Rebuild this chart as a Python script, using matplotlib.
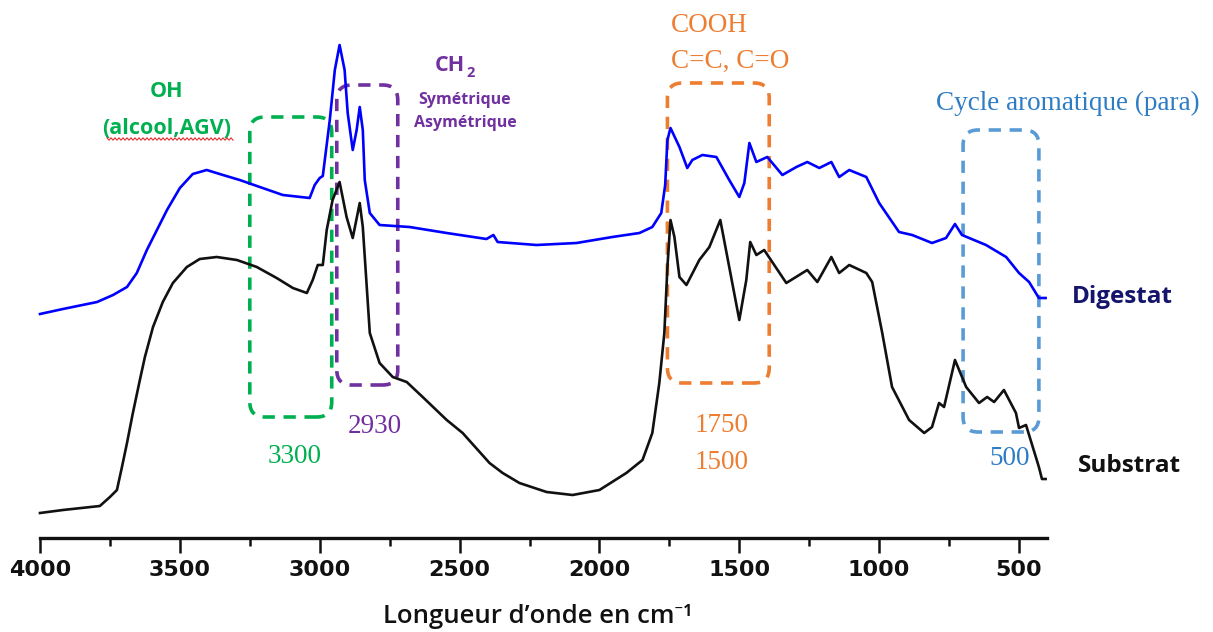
import matplotlib
matplotlib.use("Agg")
import matplotlib.pyplot as plt
from matplotlib.patches import FancyBboxPatch
from matplotlib.lines import Line2D
import numpy as np

# ---------------- data (arbitrary intensity units) ----------------
digestat_wn = [4000, 3918, 3796, 3739, 3689, 3654, 3618, 3582, 3546, 3500, 3454, 3404, 3346,
               3286, 3204, 3132, 3036, 3018, 3000, 2989, 2964, 2946, 2929, 2911, 2900, 2882,
               2868, 2857, 2846, 2839, 2821, 2786, 2679, 2546, 2404, 2379, 2364, 2225, 2082,
               1954, 1857, 1811, 1779, 1765, 1757, 1746, 1714, 1686, 1668, 1632, 1582, 1536,
               1500, 1482, 1464, 1439, 1400, 1346, 1296, 1257, 1214, 1171, 1143, 1107, 1046,
               1000, 929, 882, 811, 761, 729, 704, 618, 546, 500, 464, 429, 405]
digestat_int = [226, 231, 238, 245, 253, 267, 290, 310, 330, 352, 366, 370, 365,
                360, 352, 345, 342, 355, 362, 364, 420, 470, 495, 470, 427, 390,
                410, 433, 410, 360, 327, 315, 313, 307, 301, 305, 298, 295, 297,
                303, 307, 313, 327, 355, 400, 412, 393, 372, 380, 385, 383, 360,
                343, 357, 397, 378, 383, 365, 373, 378, 372, 378, 363, 370, 363,
                337, 308, 305, 297, 302, 316, 305, 295, 283, 267, 258, 242, 242]

substrat_wn = [4000, 3918, 3786, 3750, 3725, 3707, 3689, 3668, 3643, 3625, 3596, 3561, 3525,
               3475, 3429, 3368, 3296, 3225, 3154, 3096, 3046, 3025, 3007, 2989, 2975, 2954,
               2929, 2904, 2882, 2857, 2846, 2821, 2786, 2739, 2689, 2632, 2546, 2489, 2393,
               2346, 2286, 2189, 2096, 2000, 1904, 1846, 1811, 1786, 1768, 1757, 1746, 1732,
               1714, 1689, 1643, 1607, 1568, 1536, 1500, 1475, 1461, 1439, 1411, 1332, 1257,
               1221, 1171, 1143, 1107, 1046, 1025, 989, 954, 893, 839, 811, 786, 768, 729,
               689, 643, 614, 589, 554, 511, 500, 475, 429, 418, 405]
substrat_int = [27, 30, 34, 43, 50, 73, 97, 127, 160, 183, 213, 238, 257,
                273, 281, 283, 280, 273, 262, 252, 247, 260, 275, 275, 310, 340,
                358, 323, 302, 337, 313, 207, 177, 163, 158, 143, 120, 107, 77,
                67, 57, 48, 45, 50, 67, 80, 107, 157, 207, 273, 320, 303,
                263, 255, 280, 293, 320, 273, 220, 260, 298, 285, 290, 257, 270,
                258, 283, 267, 275, 267, 258, 207, 153, 120, 107, 113, 137, 133, 180,
                153, 137, 143, 138, 150, 127, 112, 115, 73, 61, 61]

xticks_major = [4000, 3500, 3000, 2500, 2000, 1500, 1000, 500]
xticks_minor = [3750, 3250, 2750, 2250, 1750, 1250, 750]

# band boxes: (wn_left, wn_right, y_low, y_high)
box_oh = (3250, 2957, 123, 423)
box_ch2 = (2939, 2721, 155, 455)
box_cooh = (1757, 1393, 157, 457)
box_arom = (700, 429, 108, 410)

GREEN = "#00B050"
PURPLE = "#7030A0"
ORANGE = "#ED7D31"
LBLUE = "#5B9BD5"
TBLUE = "#2E7CC4"
NAVY = "#15156B"

W, H = 1213, 632
fig = plt.figure(figsize=(W / 100, H / 100), dpi=100)
ax = fig.add_axes([40 / W, (H - 538) / H, 1007 / W, 538 / H])
ax.set_xlim(4000, 400)
ax.set_ylim(2, 540)

ax.plot(digestat_wn, digestat_int, color="#0000FF", lw=1.9, solid_joinstyle="round", clip_on=False)
ax.plot(substrat_wn, substrat_int, color="#111111", lw=1.9, solid_joinstyle="round", clip_on=False)

pxw = 1007 / 3600.0  # pixels per cm-1
rad_px = 15
for (wl, wr, y0, y1), col in [(box_oh, GREEN), (box_ch2, PURPLE), (box_cooh, ORANGE), (box_arom, LBLUE)]:
    r = rad_px / pxw
    p = FancyBboxPatch((wr, y0), wl - wr, y1 - y0,
                       boxstyle=f"round,pad=0,rounding_size={r}",
                       mutation_aspect=rad_px / r,
                       fill=False, ec=col, lw=2.6, ls=(0, (3.4, 2.4)), clip_on=False)
    ax.add_patch(p)

for s in ["left", "right", "top"]:
    ax.spines[s].set_visible(False)
ax.spines["bottom"].set_linewidth(2.4)
ax.spines["bottom"].set_color("#111111")
ax.set_yticks([])
ax.set_xticks(xticks_major)
ax.set_xticks(xticks_minor, minor=True)
ax.tick_params(axis="x", which="major", length=11, width=1.8, direction="out", pad=5,
               labelsize=16, color="#111111")
ax.tick_params(axis="x", which="minor", length=6, width=1.8, direction="out", color="#111111")
for lab in ax.get_xticklabels():
    lab.set_fontfamily("DejaVu Sans")
    lab.set_fontweight("bold")
    lab.set_color("#111111")


def px2wn(px):
    return 4000 - (px - 40) / pxw


def py2y(py):
    return 540 - py


def T(px, py, s, **kw):
    ax.text(px2wn(px), py2y(py), s, clip_on=False, **kw)


sans = ["Open Sans", "DejaVu Sans"]
serif = ["Liberation Serif", "DejaVu Serif"]

T(167, 97, "OH", color=GREEN, fontsize=15.5, fontweight="bold", family=sans, ha="center", va="baseline")
T(167, 134, "(alcool,AGV)", color=GREEN, fontsize=15.5, fontweight="bold", family=sans, ha="center", va="baseline")
# spell-check squiggle under the label
zx = np.linspace(107, 233, 64)
zy = 139 + 1.2 * np.where(np.arange(64) % 2 == 0, -1, 1)
fig.add_artist(Line2D(zx / W, 1 - zy / H, color="#E03030", lw=0.8))

T(465, 71, "CH", color=PURPLE, fontsize=15.5, fontweight="bold", family=sans, ha="right", va="baseline")
T(466, 77, "2", color=PURPLE, fontsize=10.5, fontweight="bold", family=sans, ha="left", va="baseline")
T(465, 104, "Symétrique", color=PURPLE, fontsize=11.5, fontweight="bold", family=sans, ha="center", va="baseline")
T(465, 127, "Asymétrique", color=PURPLE, fontsize=11.5, fontweight="bold", family=sans, ha="center", va="baseline")

T(671, 32, "COOH", color=ORANGE, fontsize=19.5, family=serif, ha="left", va="baseline")
T(671, 68, "C=C, C=O", color=ORANGE, fontsize=19.5, family=serif, ha="left", va="baseline")

T(1068, 110, "Cycle aromatique (para)", color=TBLUE, fontsize=19.5, family=serif, ha="center", va="baseline")

T(295, 463, "3300", color=GREEN, fontsize=19.5, family=serif, ha="center", va="baseline")
T(375, 433, "2930", color=PURPLE, fontsize=19.5, family=serif, ha="center", va="baseline")
T(722, 432, "1750", color=ORANGE, fontsize=19.5, family=serif, ha="center", va="baseline")
T(722, 469, "1500", color=ORANGE, fontsize=19.5, family=serif, ha="center", va="baseline")
T(1010, 465, "500", color=TBLUE, fontsize=19.5, family=serif, ha="center", va="baseline")

T(1122, 303, "Digestat", color=NAVY, fontsize=17.5, fontweight="bold", family=sans, ha="center", va="baseline")
T(1129, 472, "Substrat", color="#111111", fontsize=17.5, fontweight="bold", family=sans, ha="center", va="baseline")

fig.text(538 / W, 1 - 623 / H, "Longueur d’onde en cm⁻¹", ha="center", va="baseline",
         fontsize=18.5, fontweight="semibold", family=["Open Sans", "Noto Sans", "DejaVu Sans"], color="#111111")

fig.savefig("out.png", dpi=100)
